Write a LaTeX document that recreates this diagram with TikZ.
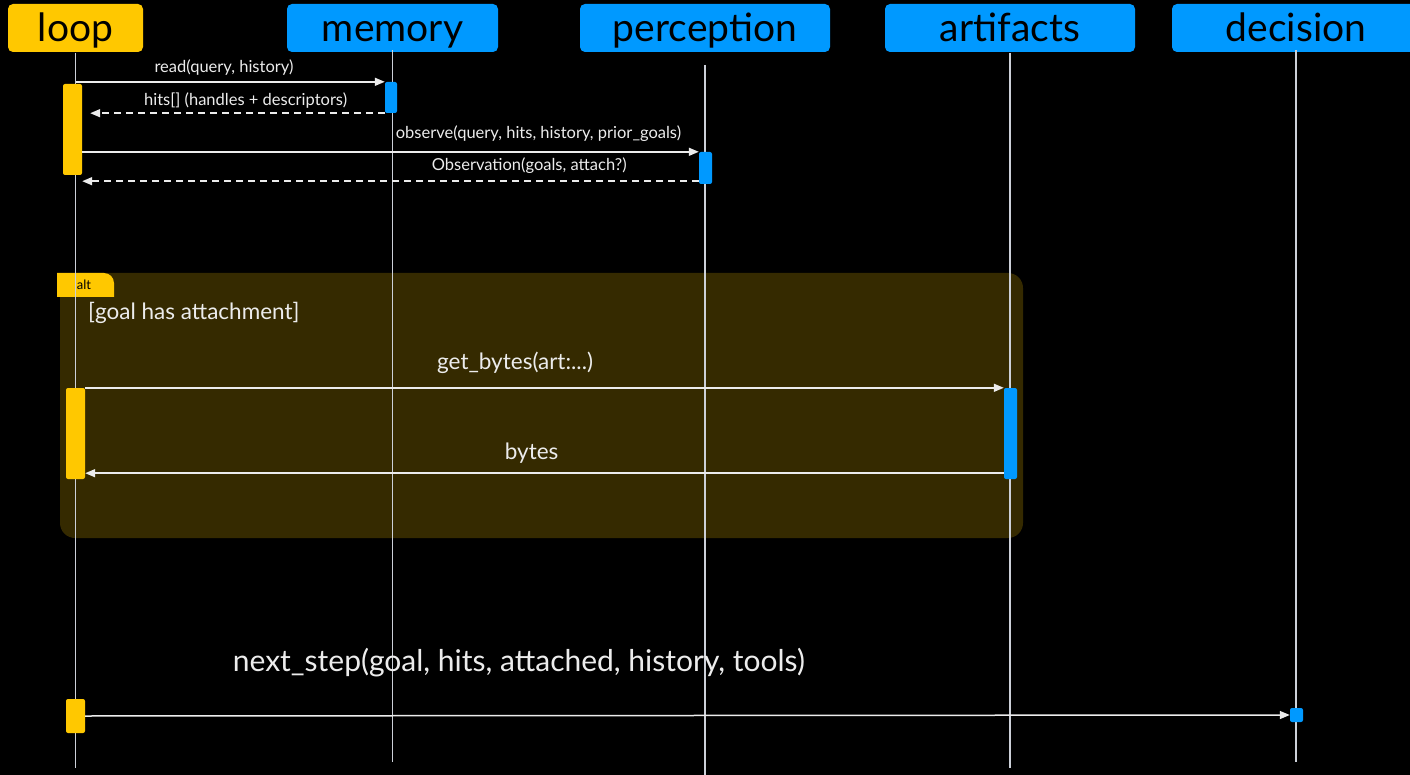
\documentclass[tikz,border=0pt]{standalone}
\usepackage{fontspec}
\setmainfont{Lato}
\usetikzlibrary{arrows.meta}
\definecolor{seqyellow}{RGB}{255,200,0}
\definecolor{seqblue}{RGB}{0,153,255}
\definecolor{altfill}{RGB}{53,42,0}
\definecolor{lifegray}{RGB}{204,208,216}
\definecolor{msgwhite}{RGB}{236,236,236}

\begin{document}
\begin{tikzpicture}[x=1pt, y=-1pt,
    head/.style={rounded corners=5pt, minimum height=48pt, inner sep=0pt, text height=27pt, text depth=0pt, text=black, font=\fontsize{39}{39}\selectfont},
    bar/.style={rounded corners=2pt, inner sep=0pt, minimum width=13pt},
    life/.style={draw=lifegray, line width=1.6pt},
    msg/.style={draw=msgwhite, line width=1.5pt, -{Triangle[length=10pt, width=8pt]}},
    reply/.style={msg, dash pattern=on 7pt off 5pt},
    small/.style={text=msgwhite, inner sep=0pt, font=\fontsize{16.5}{16.5}\selectfont},
    big/.style={text=msgwhite, inner sep=0pt, font=\fontsize{22.5}{22.5}\selectfont}]

    % 1. Canvas
    \useasboundingbox (0,0) rectangle (1410,775);
    \fill[black] (0,0) rectangle (1410,775);
    \clip (0,0) rectangle (1410,775);

    % 2. The alt frame and its tab
    \fill[altfill, rounded corners=15pt] (60,273) rectangle (1023,538);
    \fill[seqyellow] (57,297) -- (57,273) -- (104,273)
        arc[start angle=90, end angle=0, radius=10pt] -- (114,297) -- cycle;
    \node[font=\fontsize{13}{13}\selectfont, text=black] (altlabel) at (84,285) {alt};
    \node[big, anchor=west] (guard) at (88,313) {[goal has attachment]};

    % 3. Participants
    \node[head, fill=seqyellow, minimum width=135pt] (loop) at (75.5,28) {loop};
    \node[head, fill=seqblue, minimum width=211pt] (memory) at (392.5,28) {memory};
    \node[head, fill=seqblue, minimum width=250pt] (perception) at (705,28) {perception};
    \node[head, fill=seqblue, minimum width=250pt] (artifacts) at (1010,28) {artifacts};
    \node[head, fill=seqblue, minimum width=248pt] (decision) at (1296,28) {decision};

    % 4. Lifelines
    \foreach \who/\top/\bot in {loop/53/768, memory/50/762, perception/65/775, artifacts/53/768, decision/50/762} {
        \draw[life] (\who.south |- 0,\top) -- (\who.south |- 0,\bot);
    }

    % 5. Activation bars
    \node[bar, fill=seqyellow, minimum width=19pt, minimum height=91pt] (loopA) at (72.5,129.5) {};
    \node[bar, fill=seqblue, minimum width=12pt, minimum height=31pt] (memA) at (391,97.5) {};
    \node[bar, fill=seqblue, minimum height=32pt] (percA) at (705.5,168) {};
    \node[bar, fill=seqyellow, minimum width=19pt, minimum height=91pt] (loopB) at (75.5,433.5) {};
    \node[bar, fill=seqblue, minimum height=91pt] (artA) at (1010.5,433.5) {};
    \node[bar, fill=seqyellow, minimum width=19pt, minimum height=34pt] (loopC) at (75.5,716) {};
    \node[bar, fill=seqblue, minimum height=14pt] (decA) at (1296.5,715) {};

    % 6. Messages
    \draw[msg] (loop.south |- memA.north) -- (memA.north west)
        node[small, pos=0.48, above=6pt] {read(query, history)};
    \draw[reply, shorten >=8pt] (memA.south west) -- (memA.south west -| loopA.east)
        node[small, pos=0.46, above=4pt] {hits[] (handles + descriptors)};
    \draw[msg] (loopA.east |- percA.north) -- (percA.north west)
        node[small, pos=0.74, above=10pt] {observe(query, hits, history, prior\_goals)};
    \draw[reply] ([yshift=3pt]percA.south west) -- ([yshift=3pt]percA.south west -| loopA.east)
        node[small, pos=0.275, above=7pt] {Observation(goals, attach?)};

    % inside the alt frame
    \draw[msg] (loopB.north east) -- (artA.north west)
        node[big, pos=0.468, above=13pt] {get\_bytes(art:...)};
    \draw[msg] ([yshift=6pt]artA.south west) -- ([yshift=6pt]loopB.south east)
        node[big, pos=0.514, above=9pt] {bytes};

    % 7. Final call
    \draw[msg] (loopC.east) -- (decA.west)
        node[text=msgwhite, inner sep=0pt, font=\fontsize{30}{30}\selectfont, pos=0.36, above=38pt] {next\_step(goal, hits, attached, history, tools)};

\end{tikzpicture}
\end{document}
